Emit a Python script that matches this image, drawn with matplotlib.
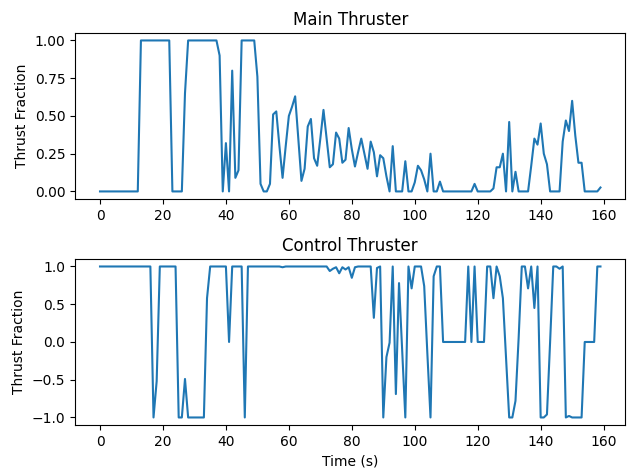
import numpy as np
import matplotlib
matplotlib.use("Agg")
import matplotlib.pyplot as plt

time = np.arange(160)

main_thrust = [
    0, 0, 0, 0, 0, 0, 0, 0, 0, 0, 0, 0, 0,            # 0-12
    1, 1, 1, 1, 1, 1, 1, 1, 1, 1,                     # 13-22
    0, 0, 0, 0,                                       # 23-26
    0.65,                                             # 27
    1, 1, 1, 1, 1, 1, 1, 1, 1, 1,                     # 28-37
    0.9, 0, 0.32, 0, 0.80, 0.09, 0.14,                # 38-44
    1, 1, 1, 1, 1,                                    # 45-49
    0.76, 0.05, 0.0, 0.0, 0.05, 0.51, 0.53, 0.30, 0.09, 0.30,   # 50-59
    0.50, 0.56, 0.63, 0.35, 0.07, 0.15, 0.43, 0.48, 0.22, 0.17,  # 60-69
    0.35, 0.54, 0.35, 0.16, 0.18, 0.39, 0.35, 0.19, 0.21, 0.42,  # 70-79
    0.28, 0.165, 0.26, 0.35, 0.25, 0.15, 0.33, 0.26, 0.10, 0.24, # 80-89
    0.22, 0.10, 0.0, 0.30, 0.0, 0.0, 0.0, 0.20, 0.0, 0.0,        # 90-99
    0.06, 0.17, 0.14, 0.08, 0.0, 0.25, 0.0, 0.0, 0.065, 0,       # 100-109
    0, 0, 0, 0, 0, 0, 0, 0, 0, 0.05,                             # 110-119
    0, 0, 0, 0, 0, 0.02, 0.16, 0.16, 0.25, 0.0,                  # 120-129
    0.46, 0.0, 0.13, 0, 0, 0, 0, 0.17, 0.35, 0.31,               # 130-139
    0.45, 0.25, 0.18, 0, 0, 0, 0, 0.33, 0.47, 0.40,              # 140-149
    0.60, 0.37, 0.19, 0.19, 0, 0, 0, 0, 0, 0.026,                # 150-159
]

control_thrust = [
    1, 1, 1, 1, 1, 1, 1, 1, 1, 1, 1, 1, 1, 1, 1, 1, 1,           # 0-16
    -1.0, -0.52,                                                 # 17-18
    1, 1, 1, 1, 1, 1,                                            # 19-24
    -1.0, -1.0, -0.49,                                           # 25-27
    -1, -1, -1, -1, -1, -1,                                      # 28-33
    0.58,                                                        # 34
    1, 1, 1, 1, 1, 1,                                            # 35-40
    0.0, 1, 1, 1, 1, -1.0,                                       # 41-46
    1, 1, 1, 1, 1, 1, 1, 1, 1, 1, 1,                             # 47-57
    0.99,                                                        # 58
    1, 1, 1, 1, 1, 1, 1, 1, 1, 1, 1, 1, 1, 1,                    # 59-72
    0.94, 0.97, 0.99, 0.91, 0.99, 0.96, 0.99, 0.85, 0.99,        # 73-81
    1, 1, 1, 1, 1,                                               # 82-86
    0.32, 0.98, 1.0, -1.0, -0.2, -0.01, 1.0, -0.69, 0.78, -0.1,  # 87-96
    -1.0, 1.0, 0.71, 1.0, 1.0, 1.0, 0.74, -0.15, -1.0, 0.87,     # 97-106
    1.0, 1.0,                                                    # 107-108
    0, 0, 0, 0, 0, 0, 0, 0,                                      # 109-116
    1.0, 0.0, 1.0, 0.0, 0.0, 0.0, 1.0, 1.0, 0.58, 1.0,           # 117-126
    0.87, 0.58, -0.2, -1.0, -1.0, -0.78, 0.05, 1.0, 1.0, 0.71,   # 127-136
    1.0, 0.45, 1.0, -1.0, -1.0, -0.96, 0.0, 1.0, 1.0, 0.97,      # 137-146
    1.0, -1.0, -0.98, -1.0, -1.0, -1.0, -1.0,                    # 147-153
    0, 0, 0, 0,                                                  # 154-157
    1.0, 1.0,                                                    # 158-159
]

fig, (ax1, ax2) = plt.subplots(2, 1, figsize=(6.28, 4.7), dpi=100)
fig.subplots_adjust(left=0.1194, right=0.996, top=0.930, bottom=0.0957, hspace=0.361)

ax1.plot(time, main_thrust)
ax1.set_title("Main Thruster")
ax1.set_ylabel("Thrust Fraction")

ax2.plot(time, control_thrust)
ax2.set_title("Control Thruster")
ax2.set_ylabel("Thrust Fraction")
ax2.set_xlabel("Time (s)")

fig.savefig("out.png", dpi=100)
